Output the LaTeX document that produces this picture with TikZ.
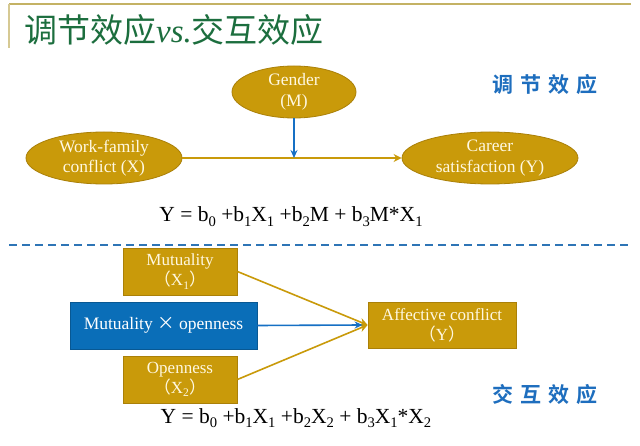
\documentclass[tikz,border=0pt]{standalone}
\usepackage{fontspec}
\setmainfont{Liberation Serif}
\newfontfamily\cjk{Noto Sans CJK SC}
\newfontfamily\cjkb{Noto Sans CJK SC Bold}
\usetikzlibrary{shapes.geometric,arrows.meta}
\definecolor{gold}{RGB}{201,154,10}
\definecolor{goldedge}{RGB}{170,128,8}
\definecolor{boxblue}{RGB}{10,110,184}
\definecolor{arrblue}{RGB}{22,112,196}
\definecolor{titlegreen}{RGB}{28,110,62}
\definecolor{olive}{RGB}{196,178,100}
\definecolor{lblblue}{RGB}{30,110,190}
\definecolor{dashblue}{RGB}{46,117,182}
\definecolor{cream}{RGB}{255,248,225}
\tikzset{
  ell/.style={ellipse, fill=gold, draw=goldedge, line width=0.8pt, inner sep=0pt, inner xsep=-10pt,
    text=cream, align=center, font=\fontsize{17.5}{20.5}\selectfont},
  gbox/.style={rectangle, fill=gold, draw=goldedge, line width=0.8pt, inner sep=0pt,
    text=cream, align=center, font=\fontsize{17}{20}\selectfont},
  bbox/.style={rectangle, fill=boxblue, draw=boxblue!80!black, line width=0.8pt, inner sep=0pt,
    text=white, align=center, font=\fontsize{17.5}{20}\selectfont},
  garrow/.style={draw=gold, line width=1.6pt, -{Stealth[length=8pt,width=8pt]}},
  barrow/.style={draw=arrblue, line width=1.6pt, -{Stealth[length=8pt,width=7pt]}},
  eqn/.style={font=\fontsize{21.5}{24}\selectfont, inner sep=0pt},
  lbl/.style={text=lblblue, font=\cjkb\fontsize{21}{24}\selectfont, inner sep=0pt}
}
\newcommand{\mysub}[1]{\raisebox{-0.42ex}{\scalebox{0.68}{#1}}}
\newcommand{\fwp}[1]{{\cjk （}#1{\cjk ）}}
\begin{document}
\begin{tikzpicture}[x=1pt,y=-1pt]
\path[fill=white] (0,0) rectangle (640,446);
\useasboundingbox (0,0) rectangle (640,446);
% header lines
\draw[olive, line width=1.6pt] (9,4) -- (631,4);
\draw[olive!70, line width=1.6pt] (9,4) -- (9,48);
\node[anchor=west, inner sep=0pt, text=titlegreen, font=\fontsize{33}{36}\selectfont] (title) at (24,30)
  {{\cjk 调节效应}{\itshape vs.}{\cjk 交互效应}};
% top part
\node[ell, minimum width=124pt, minimum height=52pt] (gender) at (294,92) {Gender\\(M)};
\node[ell, minimum width=156pt, minimum height=52pt] (wf) at (104,158) {Work-family\\conflict (X)};
\node[ell, minimum width=176pt, minimum height=52pt] (car) at (490,158) {Career\\satisfaction (Y)};
\coordinate (mid) at (gender.south |- wf.east);
\draw[garrow] (wf.east) -- (car.west);
\draw[barrow] (gender.south) -- (mid);
\node[lbl] (lab1) at (545,85) {调\hspace{7pt}节\hspace{7pt}效\hspace{7pt}应};
\node[eqn, anchor=base] (eq1) at (291,222) {Y = b\mysub{0} +b\mysub{1}X\mysub{1} +b\mysub{2}M + b\mysub{3}M*X\mysub{1}};
% divider
\draw[dashblue, line width=1.5pt, dash pattern=on 8pt off 5pt] (9,245) -- (631,245);
% bottom part
\node[gbox, minimum width=114pt, minimum height=47pt] (mut) at (180,271.5) {Mutuality\\\fwp{X\mysub{1}}};
\node[bbox, minimum width=187pt, minimum height=47pt] (mxo) at (163.5,325.5) {Mutuality {\cjk ×} openness};
\node[gbox, minimum width=114pt, minimum height=47pt] (open) at (180,379.5) {Openness\\\fwp{X\mysub{2}}};
\node[gbox, minimum width=148pt, minimum height=46pt] (aff) at (442,325) {Affective conflict\\\fwp{Y}};
\draw[garrow] (mut.east) -- (aff.west);
\draw[garrow] (open.east) -- (aff.west);
\draw[barrow] (mxo.east) -- ([xshift=-5pt]aff.west);
\node[lbl] (lab2) at (545,394) {交\hspace{7pt}互\hspace{7pt}效\hspace{7pt}应};
\node[eqn, anchor=base] (eq2) at (296,423) {Y = b\mysub{0} +b\mysub{1}X\mysub{1} +b\mysub{2}X\mysub{2} + b\mysub{3}X\mysub{1}*X\mysub{2}};
\end{tikzpicture}
\end{document}
